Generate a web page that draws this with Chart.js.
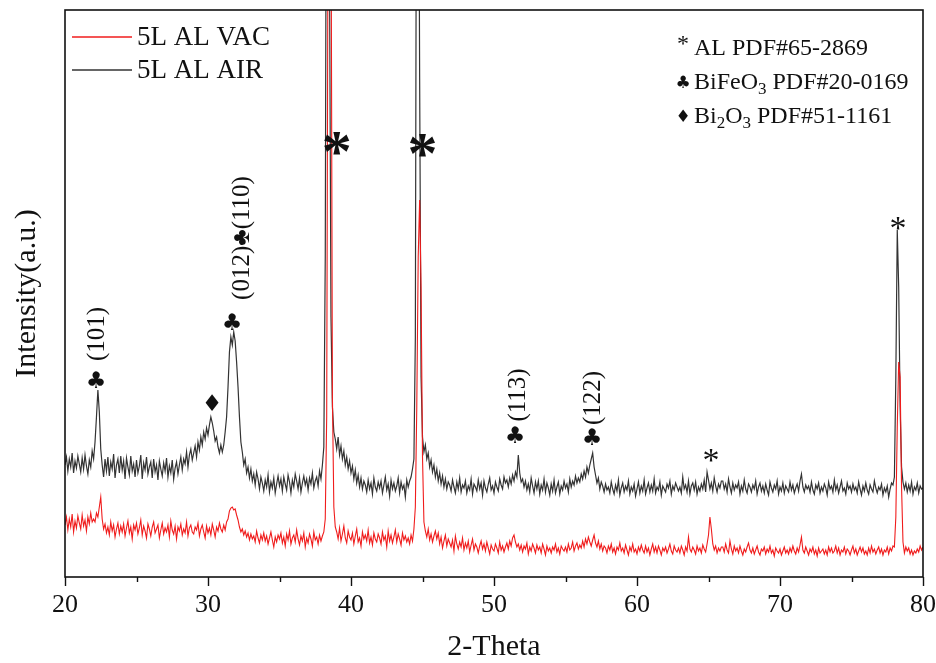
<!DOCTYPE html>
<html>
<head>
<meta charset="utf-8">
<title>XRD 5L AL</title>
<script src="https://cdn.jsdelivr.net/npm/chart.js@4.4.0/dist/chart.umd.min.js"></script>
<style>
  html, body { margin: 0; padding: 0; background: #fff; }
  #xrd { display: block; }
</style>
</head>
<body>
<canvas id="xrd" width="936" height="663"></canvas>
<script>
// 2-theta sampling of the scans
const thetaStart = 20;
const thetaStep = 0.1;

// 5L AL annealed in vacuum, one row per degree (20.0 ... 79.9), then 80.0
const vacCounts = [
  52,60,47,58,50,63,45,56,49,61,
  54,48,62,51,57,46,60,53,64,55,
  58,55,64,60,70,80,58,48,53,44,
  50,42,55,46,52,40,48,54,43,51,
  45,53,41,49,56,44,50,38,52,47,
  54,43,49,57,42,51,46,39,53,48,
  41,50,55,44,48,52,39,47,54,43,
  49,45,52,40,56,47,43,51,38,50,
  46,53,42,48,44,55,41,49,52,45,
  43,50,47,54,41,48,52,45,39,51,
  44,49,42,53,47,40,50,46,54,48,
  45,52,47,55,58,66,69,70,67,68,
  62,57,50,45,48,42,46,40,44,37,
  43,38,41,35,46,39,34,42,37,44,
  36,41,33,39,45,37,30,40,35,42,
  38,44,34,40,31,43,37,46,33,39,
  42,35,47,38,32,41,36,44,30,39,
  34,43,38,31,45,37,40,33,42,36,
  41,45,58,160,700,900,700,180,70,50,
  45,38,49,36,43,51,39,34,46,40,
  37,44,33,41,48,35,39,31,45,38,
  42,36,47,34,40,32,44,38,35,43,
  39,33,45,37,41,30,46,36,42,34,
  40,47,35,43,38,32,44,37,41,35,
  39,33,42,36,48,70,170,320,377,290,
  120,55,46,40,48,37,43,35,41,46,
  38,44,33,40,29,36,42,31,38,34,
  30,37,26,41,33,28,35,30,39,27,
  34,29,36,25,32,38,27,33,30,24,
  31,36,28,33,26,35,29,23,32,28,
  26,33,29,24,35,27,31,25,30,34,
  28,36,31,39,42,35,30,33,27,32,
  25,31,28,34,23,30,26,33,29,24,
  32,27,30,24,33,28,22,31,26,29,
  24,30,27,33,25,29,23,31,28,26,
  30,25,33,27,29,35,26,31,34,28,
  32,29,36,30,38,33,40,35,31,37,
  42,34,30,36,28,33,26,31,29,24,
  31,27,33,25,29,23,30,27,34,26,
  29,24,32,27,22,30,26,33,25,28,
  23,30,26,32,27,24,31,25,29,22,
  28,33,25,30,24,31,27,22,29,26,
  30,24,28,33,26,23,31,27,25,29,
  24,31,27,22,30,26,40,28,25,30,
  27,23,31,26,29,24,32,28,25,33,
  42,60,48,33,27,31,24,29,26,30,
  30,25,33,27,24,36,28,23,31,26,
  29,24,31,26,22,28,25,30,34,27,
  24,29,23,27,31,25,22,28,26,30,
  23,28,25,31,24,27,21,29,26,24,
  28,22,26,30,24,27,23,29,25,31,
  26,23,29,25,32,40,27,24,30,26,
  22,28,25,30,23,27,21,29,24,26,
  28,23,27,22,30,25,29,24,26,31,
  24,29,22,27,25,30,23,28,26,22,
  27,31,24,28,22,26,30,25,29,23,
  26,22,29,24,31,25,28,23,27,30,
  24,28,22,27,25,30,23,29,26,31,
  30,60,150,215,200,90,35,24,30,26,
  29,23,27,22,26,24,28,25,31,27,
  30
];

// 5L AL annealed in air, same sampling
const airCounts = [
  112,120,106,118,110,124,104,116,109,121,
  113,105,119,108,122,111,103,117,110,126,
  118,135,160,187,165,128,112,100,118,106,
  120,101,115,108,123,99,112,118,104,121,
  107,116,98,119,110,102,121,106,113,100,
  117,104,111,122,98,114,107,120,103,110,
  115,99,118,105,112,97,116,108,101,114,
  106,119,100,111,104,117,98,109,115,103,
  112,120,107,118,113,125,110,122,128,117,
  124,131,120,135,127,140,132,145,138,149,
  142,152,160,154,146,136,140,130,124,132,
  125,132,145,160,190,225,240,232,245,236,
  215,190,160,135,125,112,118,104,110,99,
  108,96,103,92,105,98,88,100,94,86,
  97,90,102,85,95,89,99,84,93,101,
  91,98,86,100,93,87,102,95,84,97,
  90,103,96,88,99,85,94,101,92,98,
  87,99,93,104,89,96,100,91,106,98,
  112,130,320,900,900,600,260,170,145,138,
  128,140,122,131,118,126,112,120,108,116,
  104,111,98,107,94,102,90,99,88,96,
  92,85,97,88,94,83,99,90,86,95,
  89,96,84,92,100,87,93,81,97,88,
  94,86,91,99,84,95,88,92,80,97,
  90,96,100,108,118,240,900,900,500,200,
  140,125,132,118,124,110,117,105,112,100,
  108,96,104,93,101,90,98,88,95,92,
  86,97,90,84,95,88,99,85,92,89,
  96,84,91,87,98,83,93,90,86,97,
  88,94,82,96,89,85,93,99,87,91,
  84,95,90,86,98,92,88,100,94,97,
  90,99,93,102,96,105,100,122,104,95,
  98,90,96,87,93,85,99,91,84,95,
  88,96,83,92,87,98,85,94,89,82,
  93,86,97,84,90,95,83,91,87,96,
  89,93,85,98,90,96,92,101,94,99,
  95,103,98,106,100,110,104,112,118,124,
  110,102,94,99,88,95,91,85,93,87,
  90,84,95,88,83,92,86,97,82,89,
  94,85,91,87,96,83,90,86,93,81,
  88,95,84,91,86,97,83,89,94,85,
  92,86,98,84,90,87,95,82,91,88,
  85,93,89,96,83,91,87,94,90,86,
  90,84,100,88,92,85,96,83,91,94,
  87,95,83,90,86,93,88,97,85,105,
  97,88,94,86,99,91,85,93,89,96,
  96,88,93,85,98,90,84,94,87,92,
  89,95,83,91,86,97,88,84,93,90,
  85,92,88,96,83,90,94,86,91,84,
  93,87,82,95,89,85,92,88,96,83,
  90,86,94,84,91,88,85,95,87,92,
  84,89,93,86,96,103,90,85,92,88,
  91,85,95,87,83,92,88,94,84,90,
  86,93,89,82,95,88,91,85,97,87,
  92,84,90,96,86,89,83,94,88,91,
  85,93,87,90,84,95,88,82,91,86,
  94,87,83,92,88,85,96,89,84,90,
  87,93,82,89,85,91,80,88,94,92,
  100,200,347,290,170,110,95,88,94,85,
  92,86,95,83,90,87,94,84,91,88,
  89
];

const seriesNames = ['5L AL VAC', '5L AL AIR'];
const thetaTicks = [20, 30, 40, 50, 60, 70, 80];

// phase reference key; second field marks subscript pieces
const phaseKey = [
  { mark: '*', parts: [['AL PDF#65-2869', 0]] },
  { mark: '\u2663', parts: [['BiFeO', 0], ['3', 1], [' PDF#20-0169', 0]] },
  { mark: '\u2666', parts: [['Bi', 0], ['2', 1], ['O', 0], ['3', 1], [' PDF#51-1161', 0]] }
];

// peak assignments, anchored in (2-theta, intensity)
const peakMarks = [
  { x: 39.0, y: 434, text: '*', kind: 'bigStar' },
  { x: 45.0, y: 432, text: '*', kind: 'bigStar' },
  { x: 65.17, y: 122, text: '*', kind: 'star' },
  { x: 78.25, y: 354, text: '*', kind: 'star' },
  { x: 22.17, y: 197, text: '\u2663', kind: 'symbol' },
  { x: 31.68, y: 255, text: '\u2663', kind: 'symbol' },
  { x: 51.47, y: 142, text: '\u2663', kind: 'symbol' },
  { x: 56.85, y: 140, text: '\u2663', kind: 'symbol' },
  { x: 30.28, y: 175, text: '\u2666', kind: 'symbol' },
  { x: 22.3, y: 243, text: '(101)', kind: 'hkl' },
  { x: 32.38, y: 339, text: '(012)\u2663(110)', kind: 'hkl' },
  { x: 51.68, y: 182, text: '(113)', kind: 'hkl' },
  { x: 56.92, y: 179, text: '(122)', kind: 'hkl' }
];

const serif = "'Liberation Serif', 'Times New Roman', serif";
const markFonts = {
  bigStar: 'bold 60px ' + serif,
  star: '34px ' + serif,
  symbol: "23px 'DejaVu Sans', sans-serif",
  hkl: '25px ' + serif
};

const toPoints = counts => counts.map((c, i) => ({ x: +(thetaStart + i * thetaStep).toFixed(1), y: c }));

// draws text so that the ink is centred on (x, y)
function inkCentred(ctx, text, x, y) {
  const m = ctx.measureText(text);
  const dy = (m.actualBoundingBoxAscent - m.actualBoundingBoxDescent) / 2;
  ctx.textAlign = 'center';
  ctx.textBaseline = 'alphabetic';
  ctx.fillText(text, x, y + dy);
}

const framePlugin = {
  id: 'frame',
  afterDraw(chart) {
    const { ctx, chartArea: a, scales: { x } } = chart;
    ctx.save();
    ctx.strokeStyle = '#111';
    ctx.lineWidth = 1.6;
    ctx.strokeRect(a.left, a.top, a.right - a.left, a.bottom - a.top);
    // outward ticks: long on labelled values, short in between
    ctx.lineWidth = 1.4;
    for (let v = x.min; v <= x.max; v += 5) {
      const px = Math.round(x.getPixelForValue(v)) + 0.5;
      const len = v % 10 === 0 ? 9 : 5;
      ctx.beginPath();
      ctx.moveTo(px, a.bottom);
      ctx.lineTo(px, a.bottom + len);
      ctx.stroke();
    }
    ctx.restore();
  }
};

const keyPlugin = {
  id: 'keys',
  afterDraw(chart) {
    const { ctx, chartArea: a } = chart;
    ctx.save();
    // series legend, top left
    chart.data.datasets.forEach((ds, i) => {
      const y = a.top + 27 + i * 33;
      ctx.strokeStyle = ds.borderColor;
      ctx.lineWidth = 1.5;
      ctx.beginPath();
      ctx.moveTo(a.left + 7, y);
      ctx.lineTo(a.left + 67, y);
      ctx.stroke();
      ctx.fillStyle = '#111';
      ctx.font = '27px ' + serif;
      ctx.textAlign = 'left';
      ctx.textBaseline = 'middle';
      ctx.fillText(ds.label, a.left + 72, y + 1);
    });
    // phase key, top right
    phaseKey.forEach((row, i) => {
      const base = a.top + 45 + i * 34;
      const x0 = a.right - 245;
      ctx.fillStyle = '#111';
      ctx.font = row.mark === '*' ? '24px ' + serif : "17px 'DejaVu Sans', sans-serif";
      inkCentred(ctx, row.mark, x0 + 5, base - 8);
      let x = x0 + 16;
      ctx.textAlign = 'left';
      ctx.textBaseline = 'alphabetic';
      row.parts.forEach(([t, sub]) => {
        ctx.font = (sub ? '17px ' : '24px ') + serif;
        ctx.fillText(t, x, base + (sub ? 5 : 0));
        x += ctx.measureText(t).width;
      });
    });
    ctx.restore();
  }
};

const marksPlugin = {
  id: 'marks',
  afterDatasetsDraw(chart) {
    const { ctx, scales: { x, y } } = chart;
    ctx.save();
    ctx.fillStyle = '#111';
    peakMarks.forEach(m => {
      const px = x.getPixelForValue(m.x);
      const py = y.getPixelForValue(m.y);
      ctx.font = markFonts[m.kind];
      if (m.kind === 'hkl') {
        ctx.save();
        ctx.translate(px, py);
        ctx.rotate(-Math.PI / 2);
        ctx.textAlign = 'center';
        ctx.textBaseline = 'middle';
        ctx.fillText(m.text, 0, 0);
        ctx.restore();
      } else {
        inkCentred(ctx, m.text, px, py);
      }
    });
    ctx.restore();
  }
};

new Chart(document.getElementById('xrd'), {
  type: 'line',
  data: {
    datasets: [
      {
        label: seriesNames[0],
        data: toPoints(vacCounts),
        borderColor: '#f01c1c',
        borderWidth: 1.1,
        pointRadius: 0
      },
      {
        label: seriesNames[1],
        data: toPoints(airCounts),
        borderColor: '#333333',
        borderWidth: 1.2,
        pointRadius: 0
      }
    ]
  },
  options: {
    responsive: false,
    animation: false,
    devicePixelRatio: 1,
    layout: { autoPadding: false, padding: { top: 10, right: 13, left: 0, bottom: 0 } },
    plugins: {
      legend: { display: false },
      tooltip: { enabled: false }
    },
    scales: {
      x: {
        type: 'linear',
        min: 20,
        max: 80,
        afterBuildTicks: scale => { scale.ticks = thetaTicks.map(v => ({ value: v })); },
        afterFit: scale => {
          scale.height = 86;
          scale.paddingLeft = 0;
          scale.paddingRight = 0;
        },
        grid: { display: false, drawTicks: false },
        border: { display: false },
        ticks: { color: '#111', font: { family: serif, size: 26 }, padding: 13, maxRotation: 0, autoSkip: false },
        title: { display: true, text: '2-Theta', color: '#111', font: { family: serif, size: 30, lineHeight: 1 }, padding: { top: 0, bottom: 1 } }
      },
      y: {
        min: 0,
        max: 567,
        afterFit: scale => {
          scale.width = 65;
          scale.paddingTop = 0;
          scale.paddingBottom = 0;
        },
        grid: { display: false, drawTicks: false },
        border: { display: false },
        ticks: { display: false },
        title: { display: true, text: 'Intensity(a.u.)', color: '#111', font: { family: serif, size: 30, lineHeight: 1 }, padding: { top: 12, bottom: 0 } }
      }
    }
  },
  plugins: [framePlugin, marksPlugin, keyPlugin]
});
</script>
</body>
</html>
